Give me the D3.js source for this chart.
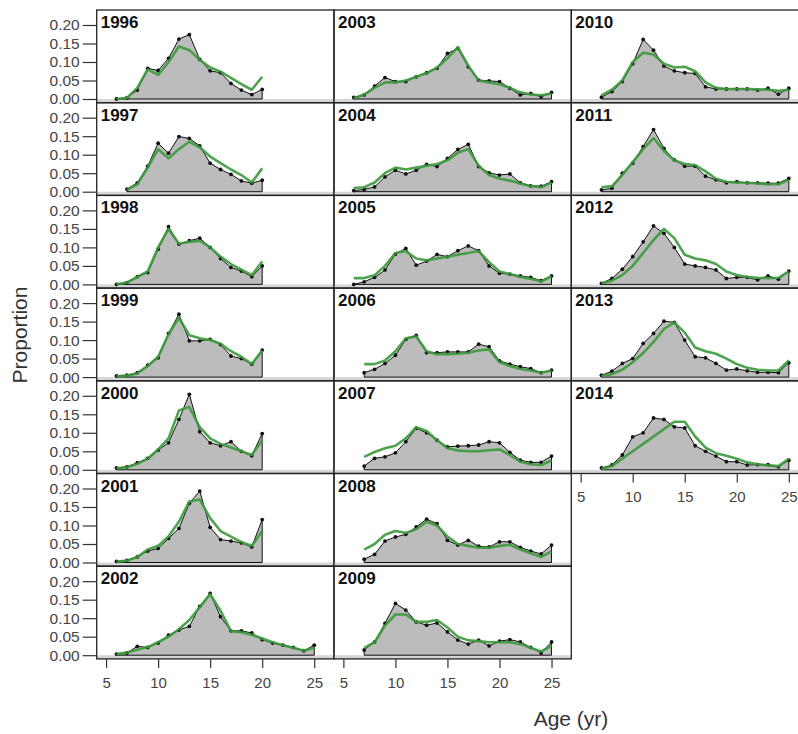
<!DOCTYPE html>
<html><head><meta charset="utf-8">
<script src="https://cdn.jsdelivr.net/npm/d3@7"></script>
<style>body{margin:0;background:#fff}svg{display:block}text{font-family:"Liberation Sans",Arial,sans-serif}</style>
</head><body>
<svg id="c" width="798" height="734"></svg>
<script>
const years = [1996,1997,1998,1999,2000,2001,2002,2003,2004,2005,2006,2007,2008,2009,2010,2011,2012,2013,2014];
const firstAge = [6,7,6,6,6,6,6,6,6,6,7,7,7,7,7,7,7,7,7];
const observed = [
 [0.0,0.003,0.024,0.083,0.077,0.11,0.162,0.174,0.107,0.076,0.071,0.042,0.024,0.012,0.026],
 [0.007,0.024,0.069,0.131,0.104,0.149,0.144,0.124,0.077,0.06,0.047,0.029,0.023,0.031],
 [0.0,0.005,0.021,0.032,0.095,0.156,0.109,0.118,0.125,0.10,0.07,0.046,0.036,0.021,0.05],
 [0.003,0.005,0.012,0.032,0.052,0.118,0.17,0.098,0.098,0.102,0.088,0.057,0.05,0.035,0.073],
 [0.005,0.008,0.019,0.031,0.053,0.073,0.136,0.204,0.103,0.073,0.065,0.076,0.05,0.038,0.098],
 [0.003,0.006,0.015,0.031,0.038,0.065,0.092,0.16,0.193,0.095,0.062,0.058,0.053,0.042,0.116],
 [0.003,0.006,0.024,0.021,0.033,0.054,0.068,0.078,0.132,0.167,0.104,0.066,0.066,0.06,0.042,0.033,0.027,0.021,0.012,0.027],
 [0.004,0.011,0.035,0.058,0.047,0.047,0.06,0.071,0.083,0.123,0.137,0.087,0.051,0.049,0.047,0.029,0.011,0.015,0.006,0.018],
 [0.003,0.006,0.013,0.04,0.058,0.048,0.058,0.074,0.068,0.09,0.114,0.128,0.068,0.051,0.045,0.048,0.024,0.016,0.015,0.027],
 [0.0,0.007,0.019,0.039,0.082,0.097,0.052,0.063,0.081,0.075,0.091,0.104,0.091,0.05,0.03,0.028,0.023,0.019,0.01,0.023],
 [0.012,0.021,0.037,0.059,0.102,0.113,0.066,0.066,0.068,0.068,0.068,0.089,0.082,0.044,0.035,0.028,0.023,0.012,0.019],
 [0.01,0.031,0.035,0.046,0.076,0.112,0.1,0.08,0.062,0.064,0.065,0.067,0.076,0.073,0.047,0.026,0.02,0.02,0.037],
 [0.009,0.022,0.058,0.069,0.076,0.096,0.117,0.105,0.06,0.047,0.06,0.044,0.042,0.056,0.056,0.041,0.031,0.023,0.047],
 [0.014,0.036,0.086,0.14,0.122,0.09,0.081,0.087,0.063,0.041,0.03,0.041,0.025,0.038,0.042,0.036,0.021,0.006,0.036],
 [0.005,0.02,0.047,0.095,0.161,0.132,0.089,0.076,0.071,0.069,0.033,0.027,0.027,0.027,0.027,0.024,0.029,0.013,0.029],
 [0.005,0.009,0.05,0.077,0.122,0.168,0.117,0.086,0.069,0.069,0.042,0.032,0.024,0.027,0.024,0.024,0.023,0.023,0.036],
 [0.003,0.016,0.041,0.075,0.115,0.158,0.138,0.1,0.055,0.05,0.046,0.039,0.016,0.019,0.019,0.012,0.023,0.014,0.036],
 [0.005,0.016,0.037,0.05,0.091,0.118,0.151,0.148,0.1,0.055,0.052,0.037,0.019,0.022,0.017,0.013,0.013,0.012,0.039],
 [0.005,0.013,0.04,0.089,0.1,0.14,0.136,0.116,0.113,0.065,0.05,0.037,0.022,0.022,0.013,0.014,0.014,0.008,0.026]
];
const predicted = [
 [0.0,0.003,0.03,0.08,0.065,0.10,0.142,0.132,0.106,0.085,0.074,0.057,0.04,0.025,0.06],
 [0.005,0.02,0.065,0.115,0.09,0.115,0.135,0.12,0.095,0.077,0.06,0.045,0.025,0.063],
 [0.0,0.005,0.02,0.035,0.10,0.15,0.11,0.115,0.118,0.10,0.075,0.055,0.04,0.025,0.062],
 [0.002,0.004,0.01,0.03,0.055,0.115,0.16,0.113,0.105,0.10,0.09,0.07,0.055,0.035,0.072],
 [0.004,0.007,0.016,0.03,0.055,0.085,0.16,0.17,0.115,0.085,0.07,0.06,0.05,0.04,0.08],
 [0.002,0.005,0.015,0.035,0.045,0.07,0.11,0.165,0.17,0.12,0.085,0.07,0.055,0.045,0.085],
 [0.003,0.007,0.015,0.022,0.035,0.05,0.07,0.095,0.13,0.165,0.12,0.065,0.062,0.055,0.045,0.035,0.027,0.02,0.012,0.02],
 [0.002,0.012,0.03,0.045,0.045,0.05,0.06,0.07,0.085,0.11,0.14,0.09,0.05,0.045,0.04,0.03,0.018,0.012,0.01,0.015],
 [0.01,0.012,0.025,0.05,0.065,0.06,0.065,0.07,0.075,0.085,0.105,0.115,0.07,0.045,0.035,0.03,0.022,0.015,0.012,0.025],
 [0.017,0.017,0.025,0.05,0.085,0.09,0.07,0.065,0.07,0.075,0.08,0.085,0.09,0.06,0.035,0.028,0.02,0.015,0.008,0.022],
 [0.035,0.035,0.045,0.07,0.105,0.11,0.07,0.062,0.062,0.063,0.066,0.072,0.075,0.04,0.03,0.022,0.018,0.012,0.018],
 [0.035,0.048,0.058,0.065,0.085,0.115,0.105,0.08,0.058,0.052,0.05,0.05,0.053,0.055,0.04,0.022,0.015,0.013,0.025],
 [0.035,0.05,0.075,0.085,0.08,0.09,0.11,0.1,0.07,0.05,0.045,0.04,0.04,0.045,0.048,0.035,0.025,0.015,0.03],
 [0.02,0.035,0.08,0.11,0.11,0.09,0.09,0.095,0.075,0.05,0.04,0.038,0.035,0.035,0.035,0.03,0.02,0.01,0.025],
 [0.01,0.025,0.05,0.1,0.125,0.12,0.095,0.085,0.087,0.075,0.045,0.03,0.027,0.027,0.027,0.026,0.025,0.022,0.025],
 [0.012,0.015,0.045,0.08,0.115,0.145,0.11,0.085,0.075,0.072,0.055,0.035,0.027,0.025,0.024,0.022,0.02,0.02,0.032],
 [0.003,0.01,0.025,0.05,0.085,0.12,0.15,0.125,0.08,0.07,0.065,0.055,0.035,0.025,0.02,0.018,0.017,0.018,0.035],
 [0.003,0.008,0.02,0.04,0.065,0.095,0.13,0.148,0.12,0.08,0.07,0.063,0.05,0.035,0.025,0.02,0.018,0.018,0.045],
 [0.002,0.01,0.03,0.05,0.07,0.09,0.11,0.13,0.13,0.09,0.06,0.045,0.038,0.03,0.02,0.015,0.012,0.01,0.03]
];
const yTicks = [0, 0.05, 0.10, 0.15, 0.20];
const xTicks = [5, 10, 15, 20, 25];

const svg = d3.select("#c");
const left0 = 96.7, top0 = 10, pw = 237.3, ph = 92.7;
const x = d3.scaleLinear().domain([4.1, 26.9]).range([0, pw]);
const y = d3.scaleLinear().domain([-0.01, 0.2405]).range([ph, 0]);
const colorGreen = "#3b9a3b";
const line = d3.line().x(d => x(d.a)).y(d => y(d.v));

years.forEach((yr, i) => {
  const col = Math.floor(i / 7), row = i % 7;
  const g = svg.append("g").attr("transform", `translate(${left0 + col*pw},${top0 + row*ph})`);
  const obs = observed[i].map((v, k) => ({a: firstAge[i] + k, v}));
  const pre = predicted[i].map((v, k) => ({a: firstAge[i] + k, v}));
  g.append("rect").attr("x", 0).attr("y", y(0)).attr("width", pw).attr("height", y(-0.01) - y(0)).attr("fill", "#d6d6d6");
  const poly = [{a: obs[0].a, v: 0}, ...obs, {a: obs[obs.length-1].a, v: 0}];
  g.append("path").attr("d", line(poly) + "Z")
    .attr("fill", "#bcbcbc").attr("stroke", "#111").attr("stroke-width", 1).attr("stroke-linejoin", "round");
  g.selectAll("circle").data(obs).join("circle")
    .attr("cx", d => x(d.a)).attr("cy", d => y(d.v)).attr("r", 1.9).attr("fill", "#111");
  g.append("path").attr("d", line(pre))
    .attr("fill", "none").attr("stroke", colorGreen).attr("stroke-width", 2.6).attr("stroke-opacity", 0.9).attr("stroke-linejoin", "round");
  g.append("rect").attr("width", pw).attr("height", ph).attr("fill", "none").attr("stroke", "#222").attr("stroke-width", 1.3);
  g.append("text").attr("x", 4).attr("y", 18).attr("font-size", 17).attr("font-weight", "bold").attr("fill", "#111").text(yr);
  if (col === 0) {
    const ya = g.append("g").call(d3.axisLeft(y).tickValues(yTicks).tickFormat(d3.format(".2f")).tickSize(14).tickPadding(3));
    ya.select(".domain").remove();
    ya.selectAll("line").attr("stroke", "#333").attr("stroke-width", 1.2);
    ya.selectAll("text").attr("font-size", 15.5).attr("fill", "#444").attr("font-family", "Liberation Sans, Arial, sans-serif");
  }
  if ((col < 2 && row === 6) || (col === 2 && row === 4)) {
    const xa = g.append("g").attr("transform", `translate(0,${ph})`).call(d3.axisBottom(x).tickValues(xTicks).tickSize(9).tickPadding(9));
    xa.select(".domain").remove();
    xa.selectAll("line").attr("stroke", "#333").attr("stroke-width", 1.2);
    xa.selectAll("text").attr("font-size", 15).attr("fill", "#444").attr("font-family", "Liberation Sans, Arial, sans-serif");
  }
});

svg.append("text").attr("transform", "translate(27,335) rotate(-90)").attr("text-anchor", "middle")
  .attr("font-size", 21).attr("fill", "#333").text("Proportion");
svg.append("text").attr("x", 571).attr("y", 726).attr("text-anchor", "middle")
  .attr("font-size", 21).attr("fill", "#333").text("Age (yr)");
</script>
</body></html>
